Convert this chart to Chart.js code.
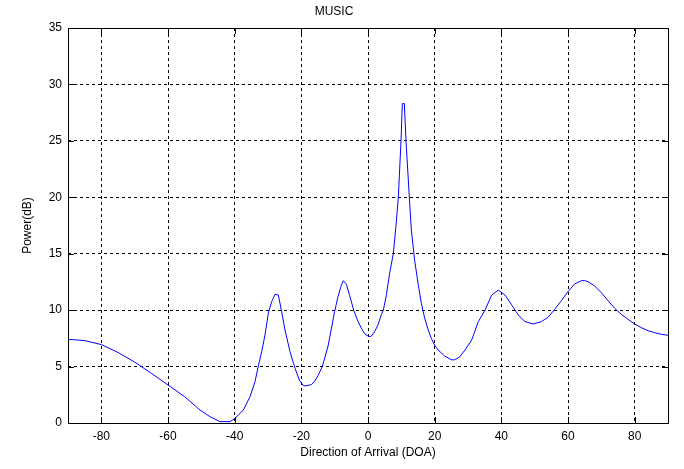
<!DOCTYPE html>
<html>
<head>
<meta charset="utf-8">
<script src="https://cdn.jsdelivr.net/npm/chart.js@4/dist/chart.umd.min.js"></script>
<style>
  html, body { margin: 0; padding: 0; background: #fff; }
  #wrap { width: 684px; height: 469px; }
</style>
</head>
<body>
<div id="wrap"><canvas id="musicChart" width="684" height="469"></canvas></div>
<script>
// DOA (degrees) and spectrum power (dB)
const doa = [
  -90, -85, -80, -75, -70, -65, -60, -55, -50.4, -47.4, -44.4, -41.4, -39.9, -37.4, -35.4, -33.9,
  -32.9, -31.9, -30.9, -29.9, -28.9, -27.9, -26.9, -25.9, -24.9, -23.4, -21.9, -20.6, -19.5, -18.9,
  -17, -16, -15, -13.7, -12, -10, -9, -8, -7.4, -6.5, -5.5, -4.3, -3, -2, -1, 0.3,
  1, 2, 3, 4, 4.6, 5.5, 6.5, 7.6, 8.4, 9.1, 9.9, 10.3, 10.9, 11.4, 12.4, 13, 14, 15, 16, 17,
  18, 19, 20, 21, 23, 25, 26, 27.5, 29.1, 31.1, 33.1, 35.1, 37.1, 39.1, 41.1, 43.1, 45.1, 47, 49.5,
  52, 54, 56, 58, 60, 62, 64, 65, 66, 68, 70, 72, 74, 76, 78, 80, 82, 84, 86, 88, 90
];
const power = [
  7.42, 7.3, 6.95, 6.25, 5.4, 4.4, 3.37, 2.33, 1.15, 0.56, 0.12, 0.12, 0.41, 1.15, 2.33, 3.66,
  5.05, 6.32, 7.8, 9.72, 10.75, 11.4, 11.34, 9.86, 8.24, 6.32, 4.85, 3.8, 3.35, 3.28,
  3.4, 3.7, 4.2, 5.0, 6.8, 9.9, 11.2, 12.2, 12.61, 12.3, 11.3, 10.0, 9.0, 8.4, 7.9, 7.65,
  7.7, 8.1, 8.7, 9.6, 10.0, 11.3, 13.3, 15.0, 17.5, 20.0, 25.0, 28.3, 28.3, 25.0, 20.0, 17.1, 14.4, 12.4, 10.6, 9.3,
  8.3, 7.5, 6.9, 6.47, 5.94, 5.6, 5.6, 5.85, 6.47, 7.35, 8.98, 10.0, 11.34, 11.78, 11.34, 10.46, 9.57, 9.0, 8.77,
  8.98, 9.36, 10.07, 10.84, 11.64, 12.32, 12.61, 12.62, 12.52, 12.14, 11.55, 10.84, 10.16, 9.63, 9.19, 8.77, 8.45, 8.18, 8.0, 7.86, 7.77
];
const xTicks = [-80, -60, -40, -20, 0, 20, 40, 60, 80];
const yTicks = [0, 5, 10, 15, 20, 25, 30, 35];

const FONT = { family: 'Liberation Sans, Arial, sans-serif', size: 12 };

// box around the axes plus inward tick marks on all four sides (MATLAB look)
const boxPlugin = {
  id: 'boxPlugin',
  afterDatasetsDraw(chart) {
    const { ctx, chartArea: a, scales } = chart;
    ctx.save();
    ctx.strokeStyle = '#000';
    ctx.lineWidth = 1;
    ctx.setLineDash([]);
    ctx.beginPath();
    xTicks.forEach(v => {
      const px = Math.round(scales.x.getPixelForValue(v)) + 0.5;
      ctx.moveTo(px, a.bottom); ctx.lineTo(px, a.bottom - 6);
      ctx.moveTo(px, a.top); ctx.lineTo(px, a.top + 6);
    });
    yTicks.forEach(v => {
      const py = Math.round(scales.y.getPixelForValue(v)) + 0.5;
      ctx.moveTo(a.left, py); ctx.lineTo(a.left + 6, py);
      ctx.moveTo(a.right, py); ctx.lineTo(a.right - 6, py);
    });
    ctx.stroke();
    ctx.strokeRect(Math.round(a.left) + 0.5, Math.round(a.top) + 0.5,
                   Math.round(a.right - a.left), Math.round(a.bottom - a.top));
    ctx.restore();
  }
};

const ctx = document.getElementById('musicChart').getContext('2d');
new Chart(ctx, {
  type: 'line',
  data: {
    datasets: [{
      data: doa.map((d, i) => ({ x: d, y: power[i] })),
      borderColor: '#0000ff',
      borderWidth: 1,
      pointRadius: 0,
      tension: 0,
      fill: false
    }]
  },
  options: {
    responsive: false,
    animation: false,
    layout: { padding: { left: 0, right: 16, top: 0, bottom: 0 } },
    plugins: {
      legend: { display: false },
      tooltip: { enabled: false },
      title: {
        display: true,
        text: 'MUSIC',
        color: '#000',
        font: { ...FONT, weight: 'normal' },
        padding: { top: 4, bottom: 9.6 }
      }
    },
    scales: {
      x: {
        type: 'linear',
        min: -90,
        max: 90,
        afterBuildTicks: s => { s.ticks = xTicks.map(v => ({ value: v })); },
        afterFit: s => { s.height = 46; },
        grid: { color: '#000', lineWidth: 1, drawTicks: false },
        border: { display: false, dash: [3, 3] },
        ticks: { color: '#000', font: FONT, padding: 6, maxRotation: 0 },
        title: {
          display: true,
          text: 'Direction of Arrival (DOA)',
          color: '#000',
          font: FONT,
          padding: { top: 0, bottom: 8.8 }
        }
      },
      y: {
        type: 'linear',
        min: 0,
        max: 35,
        afterBuildTicks: s => { s.ticks = yTicks.map(v => ({ value: v })); },
        afterFit: s => { s.width = 68; },
        grid: { color: '#000', lineWidth: 1, drawTicks: false },
        border: { display: false, dash: [3, 3] },
        ticks: { color: '#000', font: FONT, padding: 6 },
        title: {
          display: true,
          text: 'Power(dB)',
          color: '#000',
          font: FONT,
          padding: { top: 20.8, bottom: 0 }
        }
      }
    }
  },
  plugins: [boxPlugin]
});
</script>
</body>
</html>
